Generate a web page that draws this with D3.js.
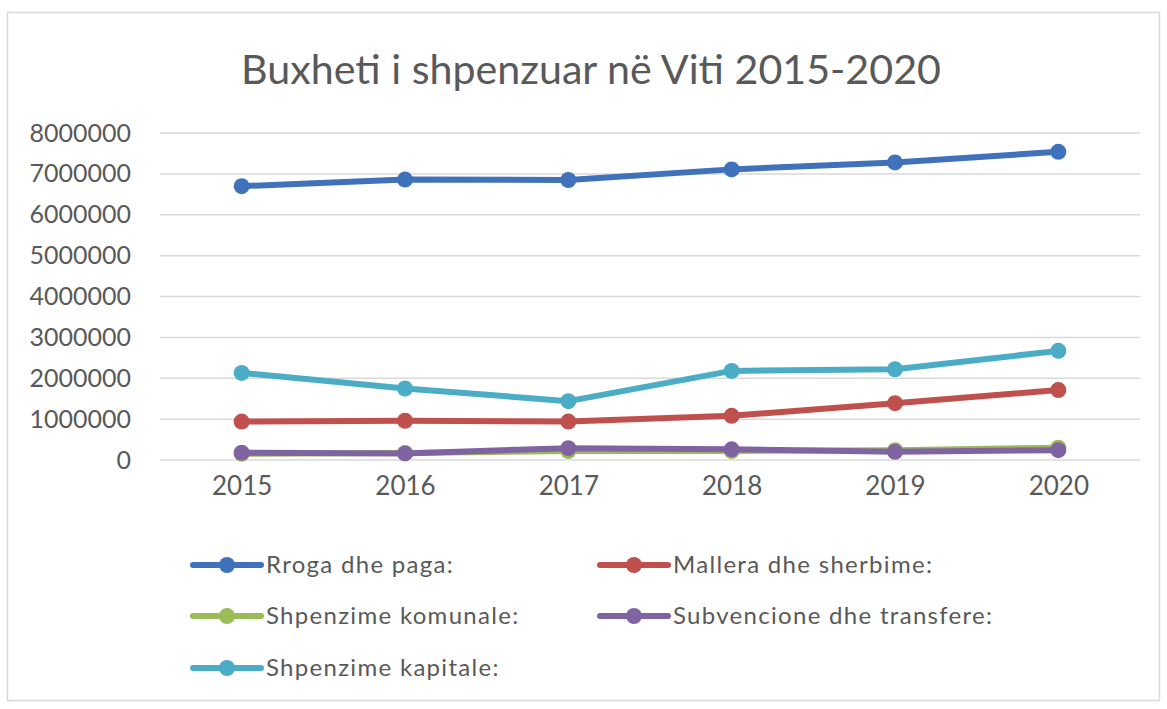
<!DOCTYPE html>
<html>
<head>
<meta charset="utf-8">
<script src="https://cdn.jsdelivr.net/npm/d3@7"></script>
<style>
  body { margin: 0; background: #fff; }
  text { font-family: Lato, "Open Sans", sans-serif; fill: #595959; }
</style>
</head>
<body>
<div id="visual"></div>
<script>

var years = ["2015", "2016", "2017", "2018", "2019", "2020"];
var seriesNames = ["Rroga dhe paga:", "Mallera dhe sherbime:", "Shpenzime komunale:", "Subvencione dhe transfere:", "Shpenzime kapitale:"];
var rroga = [6700000, 6860000, 6850000, 7110000, 7280000, 7540000];
var mallera = [940000, 960000, 940000, 1080000, 1390000, 1710000];
var komunale = [150000, 170000, 220000, 220000, 240000, 300000];
var subvencione = [180000, 160000, 290000, 260000, 200000, 240000];
var kapitale = [2130000, 1750000, 1440000, 2180000, 2220000, 2670000];
var yTicks = [0, 1000000, 2000000, 3000000, 4000000, 5000000, 6000000, 7000000, 8000000];
var colors = ["#3f72ba", "#c0504d", "#9bbb59", "#8064a2", "#4bacc6"];

var w = 1167, h = 709;
var allSeries = [rroga, mallera, komunale, subvencione, kapitale];

var svg = d3.select("#visual").append("svg")
    .attr("width", w)
    .attr("height", h);

// chart frame
svg.append("rect")
    .attr("x", 7.5).attr("y", 12.5)
    .attr("width", 1152).attr("height", 688)
    .attr("fill", "#fff")
    .attr("stroke", "#d9d9d9")
    .attr("stroke-width", 1.5);

// title, fitted to its width in the picture
var title = svg.append("text")
    .attr("x", 591).attr("y", 84)
    .attr("text-anchor", "middle")
    .style("font-size", "40px")
    .text("Buxheti i shpenzuar në Viti 2015-2020");
var tw = title.node().getComputedTextLength();
title.style("font-size", (40 * 700 / tw) + "px");

var x = d3.scalePoint().domain(years).range([160, 1140]).padding(0.5);
var y = d3.scaleLinear().domain([0, 8000000]).range([460, 133]);

// gridlines
svg.append("g").selectAll("line")
    .data(yTicks)
    .enter().append("line")
    .attr("x1", 160).attr("x2", 1140)
    .attr("y1", function (d) { return y(d); })
    .attr("y2", function (d) { return y(d); })
    .attr("stroke", "#d9d9d9")
    .attr("stroke-width", 1.5);

// y axis labels
var yAxis = svg.append("g")
    .attr("transform", "translate(131,0)")
    .call(d3.axisLeft(y).tickValues(yTicks).tickSize(0).tickPadding(0).tickFormat(d3.format("d")));
yAxis.select(".domain").remove();
yAxis.selectAll("text")
    .style("font-size", "25px")
    .style("font-family", "Lato, sans-serif")
    .attr("fill", "#595959");

// x axis labels
var xAxis = svg.append("g")
    .attr("transform", "translate(0,477)")
    .call(d3.axisBottom(x).tickSize(0).tickPadding(0));
xAxis.select(".domain").remove();
xAxis.selectAll("text")
    .style("font-size", "26px")
    .style("font-family", "Lato, sans-serif")
    .attr("fill", "#595959");

var line = d3.line()
    .x(function (d, i) { return x(years[i]); })
    .y(function (d) { return y(d); });

// draw in order so that purple sits over green like the picture
var order = [4, 1, 2, 3, 0];
order.forEach(function (k) {
    var g = svg.append("g");
    g.append("path")
        .attr("d", line(allSeries[k]))
        .attr("fill", "none")
        .attr("stroke", colors[k])
        .attr("stroke-width", 6)
        .attr("stroke-linejoin", "round")
        .attr("stroke-linecap", "round");
    g.selectAll("circle")
        .data(allSeries[k])
        .enter().append("circle")
        .attr("cx", function (d, i) { return x(years[i]); })
        .attr("cy", function (d) { return y(d); })
        .attr("r", 8)
        .attr("fill", colors[k]);
});

// legend
var legendPos = [[193, 565], [600, 565], [193, 616], [600, 616], [193, 668]];
seriesNames.forEach(function (name, k) {
    var p = legendPos[k];
    var lg = svg.append("g").attr("transform", "translate(" + p[0] + "," + p[1] + ")");
    lg.append("line")
        .attr("x1", 0).attr("x2", 68)
        .attr("y1", 0).attr("y2", 0)
        .attr("stroke", colors[k])
        .attr("stroke-width", 6)
        .attr("stroke-linecap", "round");
    lg.append("circle")
        .attr("cx", 34).attr("cy", 0)
        .attr("r", 8)
        .attr("fill", colors[k]);
    lg.append("text")
        .attr("x", 73).attr("y", 0)
        .attr("dy", "0.35em")
        .style("font-size", "24px")
        .style("letter-spacing", "1.3px")
        .text(name);
});

</script>
</body>
</html>
